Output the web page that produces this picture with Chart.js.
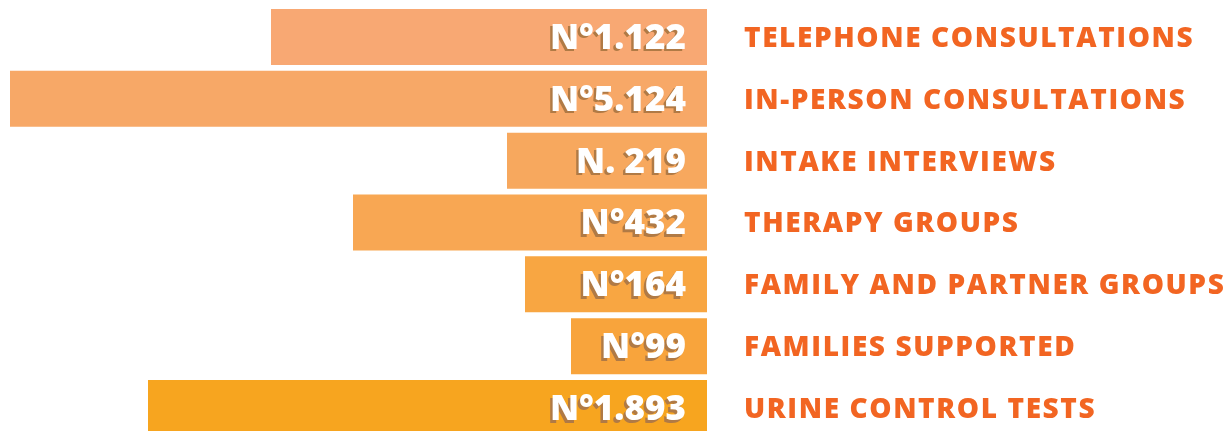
<!DOCTYPE html>
<html>
<head>
<meta charset="utf-8">
<script src="https://cdn.jsdelivr.net/npm/chart.js@4"></script>
<style>
  html, body { margin: 0; padding: 0; background: #fff; overflow: hidden; }
  .wrap { width: 1223px; height: 440px; position: relative; }
</style>
</head>
<body>
<div class="wrap"><canvas id="servicesChart"></canvas></div>
<script>
const categories = [
  'TELEPHONE CONSULTATIONS',
  'IN-PERSON CONSULTATIONS',
  'INTAKE INTERVIEWS',
  'THERAPY GROUPS',
  'FAMILY AND PARTNER GROUPS',
  'FAMILIES SUPPORTED',
  'URINE CONTROL TESTS'
];
const counts = [1122, 5124, 219, 432, 164, 99, 1893];
const valueLabels = ['N°1.122', 'N°5.124', 'N. 219', 'N°432', 'N°164', 'N°99', 'N°1.893'];
// bar lengths as drawn in the original (not proportional to the counts)
const barLengths = [436, 697, 200, 354, 182, 136, 559];
const barColors = ['#f8a873', '#f7a867', '#f7a85e', '#f8a753', '#f8a642', '#f8a43c', '#f7a51f'];

// value text inside the bars + category names to the right of them
const labelPlugin = {
  id: 'barLabels',
  afterDatasetsDraw(chart) {
    const { ctx, chartArea } = chart;
    const meta = chart.getDatasetMeta(0);
    ctx.save();
    ctx.textBaseline = 'middle';
    meta.data.forEach((bar, i) => {
      const y = bar.y + 2;
      ctx.font = '800 35px "Open Sans"';
      ctx.textAlign = 'right';
      ctx.letterSpacing = '0px';
      const x = bar.base - 21;
      ctx.fillStyle = '#b07a45';
      ctx.fillText(valueLabels[i], x - 2.5, y + 2.5);
      ctx.fillStyle = '#ffffff';
      ctx.fillText(valueLabels[i], x, y);

      ctx.font = '800 28px "Open Sans"';
      ctx.textAlign = 'left';
      ctx.letterSpacing = '1.6px';
      ctx.fillStyle = '#f26522';
      ctx.fillText(categories[i], chartArea.right + 37, y);
    });
    ctx.restore();
  }
};

new Chart(document.getElementById('servicesChart'), {
  type: 'bar',
  data: {
    labels: categories,
    datasets: [{
      data: barLengths,
      backgroundColor: barColors,
      borderWidth: 0,
      categoryPercentage: 1,
      barPercentage: 0.905,
    }]
  },
  options: {
    indexAxis: 'y',
    responsive: true,
    maintainAspectRatio: false,
    animation: false,
    layout: { padding: { top: 6, bottom: 1, left: 0, right: 516 } },
    plugins: {
      legend: { display: false },
      tooltip: { enabled: false },
    },
    scales: {
      x: { reverse: true, min: 0, max: 707, display: false },
      y: { display: false },
    },
  },
  plugins: [labelPlugin],
});
</script>
</body>
</html>
